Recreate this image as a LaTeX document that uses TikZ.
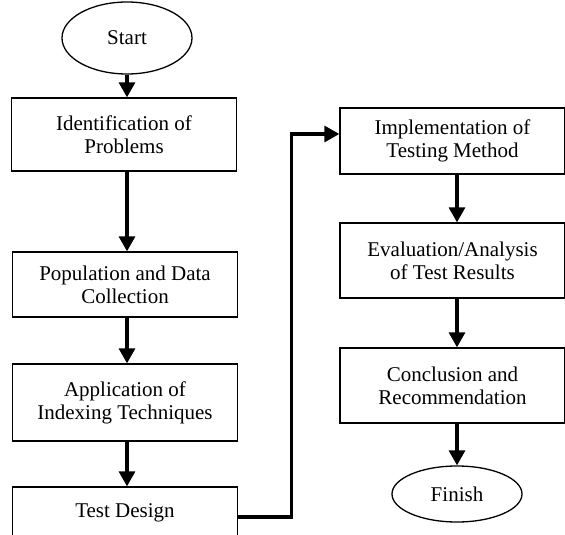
\documentclass[tikz,border=0pt]{standalone}
\usepackage{fontspec}
\setmainfont{Liberation Serif}
\usetikzlibrary{shapes.geometric}
\usetikzlibrary{arrows.meta}

\begin{document}
\begin{tikzpicture}[x=1pt,y=-1pt,
    >={Triangle[length=15pt,width=16pt]},
    every node/.style={font=\fontsize{21}{23}\selectfont,align=center},
    stepbox/.style={draw,line width=1.3pt,minimum width=225pt,inner sep=0pt},
    terminal/.style={draw,ellipse,line width=1.3pt,minimum width=130pt,inner sep=0pt},
    flow/.style={->,line width=3.2pt}]
          \clip (0,0) rectangle (565,535);

          \node[terminal,minimum height=72pt] (start) at (127,38) {Start};
          \node[stepbox,minimum height=73pt] (ident) at (124,134.5) {Identification of\\Problems};
          \node[stepbox,minimum height=65pt] (pop) at (125,284.5) {Population and Data\\Collection};
          \node[stepbox,minimum height=77pt] (index) at (125,402.5) {Application of\\Indexing Techniques};
          \node[stepbox,minimum height=60pt,text depth=12pt] (test) at (125,517) {Test Design};

          \node[stepbox,minimum height=66pt] (impl) at (452.5,141) {Implementation of\\Testing Method};
          \node[stepbox,minimum height=75pt] (eval) at (452.5,260.5) {Evaluation/Analysis\\of Test Results};
          \node[stepbox,minimum height=75pt] (concl) at (452.5,385.5) {Conclusion and\\Recommendation};
          \node[terminal,minimum height=56pt] (finish) at (457,494) {Finish};

          \draw[flow] (start) -- (start |- ident.north);
          \draw[flow] (ident.south -| start) -- (pop.north -| start);
          \draw[flow] (pop.south -| start) -- (index.north -| start);
          \draw[flow] (index.south -| start) -- (test.north -| start);
          \draw[flow] (test.east) -- ++(53,0) |- ([yshift=7pt]impl.west);
          \draw[flow] (impl.south -| finish) -- (eval.north -| finish);
          \draw[flow] (eval.south -| finish) -- (concl.north -| finish);
          \draw[flow] (concl.south -| finish) -- (finish);
\end{tikzpicture}
\end{document}
